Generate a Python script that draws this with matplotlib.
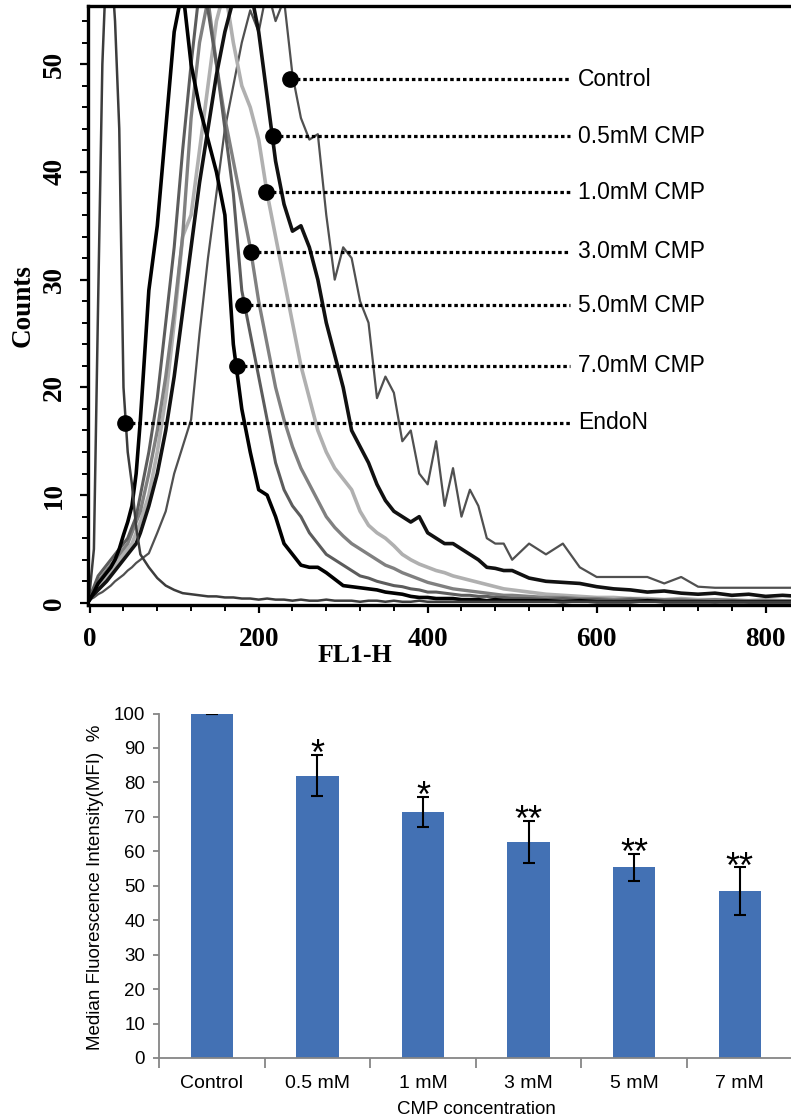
import matplotlib.pyplot as plt
from matplotlib.ticker import MultipleLocator, FixedLocator

# ---- flow cytometry histograms (FL1-H vs counts) ----
fl1_bins = [0, 5, 10, 15, 20, 25, 30, 35, 40, 45, 50, 55, 60,
            70, 80, 90, 100, 110, 120, 130, 140, 150, 160, 170, 180, 190, 200,
            210, 220, 230, 240, 250, 260, 270, 280, 290, 300, 310, 320, 330, 340,
            350, 360, 370, 380, 390, 400, 410, 420, 430, 440, 450, 460, 470, 480,
            490, 500, 520, 540, 560, 580, 600, 620, 640, 660, 680, 700, 720, 740,
            760, 780, 800, 820, 840]

counts_control = [0.3, 0.5, 0.8, 1, 1.3, 1.6, 2, 2.3, 2.6, 3, 3.3, 3.7, 4,
                  4.6, 6.5, 8.5, 12, 14.5, 17, 25, 32, 38, 44, 48, 52, 55, 53,
                  57, 54, 56, 49, 45, 43, 43.5, 36, 30, 33, 32, 28, 26, 19,
                  21, 19.5, 15, 16, 12, 11, 15, 9, 12.5, 8, 10.5, 9, 6, 5.5,
                  5.5, 4, 5.5, 4.5, 5.5, 3.3, 2.4, 2.4, 2.4, 2.4, 1.8, 2.4, 1.5, 1.4,
                  1.4, 1.4, 1.4, 1.4, 1.4]
counts_05mM = [0.3, 0.8, 1.2, 1.6, 2, 2.5, 3, 3.5, 4, 4.5, 5, 5.5, 6.5,
               9, 12, 16, 21, 27, 33, 39, 44, 49, 53, 56, 58, 57, 53,
               47, 41, 37, 34.5, 35, 33, 30, 26, 23, 20, 16, 14.5, 13, 11,
               9.5, 8.5, 8, 7.5, 8, 6.5, 6, 5.5, 5.5, 5, 4.5, 4, 3.3, 3.2,
               3, 3, 2.3, 2.0, 1.9, 1.8, 1.5, 1.3, 1.2, 1.0, 1.1, 0.9, 0.8, 0.9,
               0.7, 0.8, 0.6, 0.7, 0.6]
counts_1mM = [0.3, 0.8, 1.5, 2, 2.5, 3, 3.5, 4, 4.5, 5, 5.5, 6.5, 7.5,
              10, 14, 19, 26, 34, 36, 42, 48, 54, 57, 52, 48, 46, 43,
              38, 34, 30, 26, 22, 19, 16, 14, 12.5, 11.5, 10.5, 8.5, 7.2, 6.5,
              6, 5.3, 4.5, 4, 3.6, 3.3, 3, 2.8, 2.5, 2.3, 2.1, 1.9, 1.7, 1.5,
              1.3, 1.2, 1.0, 0.8, 0.7, 0.6, 0.5, 0.5, 0.4, 0.4, 0.3, 0.4, 0.3, 0.3,
              0.3, 0.2, 0.3, 0.2, 0.2]
counts_3mM = [0.5, 1, 2, 2.5, 3, 3.5, 4, 4.5, 5, 5.5, 6.5, 7.5, 8.5,
              12, 16, 21, 27, 34, 45, 52, 56, 50, 45, 41, 37, 33, 28,
              24, 20, 17, 14.5, 12.5, 11, 9.5, 8, 7, 6.2, 5.5, 5, 4.5, 4,
              3.5, 3.2, 2.8, 2.5, 2.2, 1.9, 1.7, 1.5, 1.3, 1.2, 1.1, 1.0, 0.9, 0.8,
              0.7, 0.7, 0.6, 0.5, 0.5, 0.4, 0.4, 0.3, 0.4, 0.3, 0.3, 0.3, 0.2, 0.3,
              0.2, 0.2, 0.2, 0.2, 0.2]
counts_5mM = [0.5, 1.5, 2.5, 3, 3.5, 4, 4.5, 5, 5.5, 6, 7, 8, 10,
              14, 19, 26, 33, 42, 50, 57, 55, 50, 44, 38, 29, 25, 21,
              17, 13, 10.5, 9, 8, 6.5, 5.5, 4.5, 4, 3.5, 3, 2.5, 2.3, 2,
              1.8, 1.6, 1.5, 1.3, 1.2, 1.0, 1.0, 0.9, 0.8, 0.7, 0.7, 0.6, 0.6, 0.5,
              0.5, 0.4, 0.4, 0.3, 0.4, 0.3, 0.3, 0.2, 0.3, 0.2, 0.2, 0.2, 0.2, 0.1,
              0.2, 0.1, 0.1, 0.1, 0.1]
counts_7mM = [0.3, 1, 1.8, 2.3, 2.8, 3.3, 4, 5, 6.3, 7.5, 9, 12, 17,
              29, 35, 44, 53, 57, 50, 46, 43, 40, 36, 24, 18, 14, 10.5,
              10, 8, 5.5, 4.5, 3.5, 3.3, 3.3, 2.8, 2.2, 1.6, 1.5, 1.4, 1.3, 1.2,
              1.0, 0.9, 0.8, 0.6, 0.5, 0.5, 0.4, 0.4, 0.4, 0.3, 0.3, 0.3, 0.2, 0.3,
              0.2, 0.2, 0.2, 0.2, 0.1, 0.2, 0.1, 0.1, 0.1, 0.2, 0.1, 0.1, 0.1, 0.1,
              0.1, 0.1, 0.1, 0.1, 0.1]
counts_endon = [1, 5, 28, 50, 60, 60, 54, 44, 20, 14, 11, 7, 4.5,
                3.3, 2.3, 1.6, 1.2, 0.9, 0.8, 0.7, 0.6, 0.6, 0.5, 0.5, 0.4, 0.4, 0.3,
                0.4, 0.3, 0.3, 0.2, 0.3, 0.2, 0.2, 0.3, 0.2, 0.2, 0.2, 0.1, 0.2, 0.2,
                0.1, 0.2, 0.1, 0.1, 0.2, 0.1, 0.1, 0.1, 0.1, 0.1, 0.1, 0.1, 0.1, 0.1,
                0.1, 0.1, 0.1, 0.1, 0.1, 0.1, 0.1, 0.1, 0.1, 0.1, 0.1, 0.1, 0.1, 0.1,
                0.1, 0.1, 0.1, 0.1, 0.1]

ann_labels = ['Control', '0.5mM CMP', '1.0mM CMP', '3.0mM CMP',
              '5.0mM CMP', '7.0mM CMP', 'EndoN']
ann_x = [237, 217, 209, 191, 182, 174, 42]
ann_y = [48.6, 43.3, 38.1, 32.6, 27.6, 22.0, 16.7]

# ---- bar chart ----
groups = ['Control', '0.5 mM', '1 mM', '3 mM', '5 mM', '7 mM']
mfi = [100, 82, 71.5, 62.7, 55.3, 48.4]
mfi_err = [0, 5.9, 4.4, 6.2, 3.9, 6.9]
signif = ['', '*', '*', '**', '**', '**']

plt.rcParams['font.family'] = ['Liberation Sans', 'DejaVu Sans']
serif_bold = dict(family='Liberation Serif', weight='bold')

fig = plt.figure(figsize=(7.91, 11.2), dpi=100)

# top panel
ax = fig.add_axes([88 / 791, 1 - 605 / 1120, 1 - 88 / 791, 599 / 1120])
curves = [
    (counts_control, '#505050', 1.6),
    (counts_1mM, '#b0b0b0', 2.6),
    (counts_3mM, '#808080', 2.4),
    (counts_5mM, '#5c5c5c', 2.2),
    (counts_05mM, '#111111', 2.6),
    (counts_7mM, '#000000', 2.6),
    (counts_endon, '#3c3c3c', 1.8),
]
for ys, col, lw in curves:
    ax.plot(fl1_bins, ys, color=col, lw=lw)

ax.set_xlim(-2, 830)
ax.set_ylim(-0.2, 55.4)
for s in ['left', 'bottom', 'top']:
    ax.spines[s].set_linewidth(2.4)
ax.spines['right'].set_visible(False)
ax.xaxis.set_major_locator(MultipleLocator(200))
ax.xaxis.set_minor_locator(MultipleLocator(40))
ax.yaxis.set_major_locator(MultipleLocator(10))
ax.yaxis.set_minor_locator(MultipleLocator(2))
ax.tick_params(which='major', length=6, width=1.6, direction='out')
ax.tick_params(which='minor', length=4, width=1.4, direction='out')
ax.tick_params(axis='x', which='major', pad=10)
ax.tick_params(axis='y', which='major', pad=9)
for lab in ax.get_xticklabels() + ax.get_yticklabels():
    lab.set_fontfamily('Liberation Serif')
    lab.set_fontweight('bold')
    lab.set_fontsize(19.5)
for lab in ax.get_yticklabels():
    lab.set_rotation(90)
    lab.set_va('center')

line_end = 568
for name, x, y in zip(ann_labels, ann_x, ann_y):
    ax.plot([x, line_end], [y, y], color='black', lw=2.3,
            linestyle=(0, (1.1, 0.9)), zorder=5)
    ax.plot(x, y, 'o', color='black', markersize=11, zorder=6)
    ax.text(578, y, name, fontsize=16.5, va='center', ha='left')

fig.text(23 / 791, 1 - 306 / 1120, 'Counts', rotation=90, ha='center',
         va='center', fontsize=19.5, **serif_bold)
fig.text(355 / 791, 1 - 656 / 1120, 'FL1-H', ha='center', va='center',
         fontsize=18.5, **serif_bold)

# bottom panel
ax2 = fig.add_axes([159 / 791, 62 / 1120, 633.6 / 791, 344.5 / 1120])
pos = list(range(len(groups)))
ax2.bar(pos, mfi, width=0.4, color='#4371b4', yerr=mfi_err, capsize=4,
        error_kw=dict(elinewidth=1.5, capthick=1.5, ecolor='black'))
for i, (v, e, s) in enumerate(zip(mfi, mfi_err, signif)):
    if s:
        ax2.text(i, v + e - 2.9, s, ha='center', va='baseline', fontsize=26)

ax2.set_xlim(-0.5, 5.5)
ax2.set_ylim(0, 100)
ax2.spines['top'].set_visible(False)
ax2.spines['right'].set_visible(False)
for s in ['left', 'bottom']:
    ax2.spines[s].set_color('#868686')
    ax2.spines[s].set_linewidth(1.3)
ax2.yaxis.set_major_locator(MultipleLocator(10))
ax2.set_xticks(pos)
ax2.set_xticklabels(groups, fontsize=14)
ax2.xaxis.set_minor_locator(FixedLocator([p - 0.5 for p in pos] + [5.5]))
ax2.tick_params(axis='x', which='major', length=0, pad=12)
ax2.tick_params(axis='x', which='minor', length=7, width=1.3, color='#868686')
ax2.tick_params(axis='y', length=4, width=1.3, color='#868686', labelsize=13.5,
                pad=6)
fig.text(96 / 791, 1 - 887 / 1120, 'Median Fluorescence Intensity(MFI)  %',
         rotation=90, ha='center', va='center', fontsize=13.5)
fig.text(476 / 791, 1 - 1110 / 1120, 'CMP concentration', ha='center',
         va='center', fontsize=13.5)

fig.savefig('out.png', dpi=100)
